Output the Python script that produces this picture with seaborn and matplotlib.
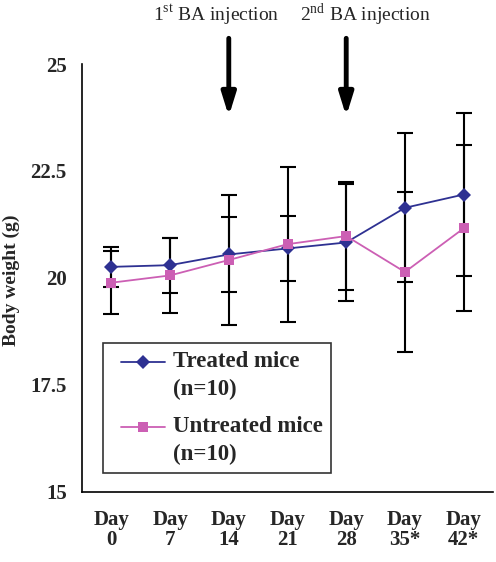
import matplotlib
matplotlib.use("Agg")
import matplotlib.pyplot as plt
import seaborn as sns
import pandas as pd
import numpy as np
from matplotlib.lines import Line2D
from matplotlib.legend_handler import HandlerLine2D

days = ["Day\n0", "Day\n7", "Day\n14", "Day\n21", "Day\n28", "Day\n35*", "Day\n42*"]
treated = [20.26, 20.30, 20.55, 20.69, 20.83, 21.64, 21.95]
treated_sd = [0.46, 0.64, 0.88, 0.77, 1.36, 1.74, 1.90]
untreated = [19.89, 20.06, 20.42, 20.79, 20.98, 20.14, 21.16]
untreated_sd = [0.74, 0.87, 1.51, 1.81, 1.27, 1.88, 1.94]
yticks = [15, 17.5, 20, 22.5, 25]
ytick_labels = ["15", "17.5", "20", "22.5", "25"]
injections = [(2, "1$^{\\rm st}$ BA injection"), (4, "2$^{\\rm nd}$ BA injection")]
legend_labels = ["Treated mice\n(n=10)", "Untreated mice\n(n=10)"]

sns.set_style("white")
plt.rcParams["font.family"] = ["Liberation Serif", "DejaVu Serif"]
plt.rcParams["mathtext.fontset"] = "custom"
plt.rcParams["mathtext.rm"] = "Liberation Serif"

c_tr = "#2E3192"
c_un = "#CC5FB4"

pos = np.arange(len(days))
df = pd.DataFrame({
    "pos": np.concatenate([pos, pos]),
    "weight": treated + untreated,
    "group": ["Treated"] * len(pos) + ["Untreated"] * len(pos),
})

fig = plt.figure(figsize=(4.96, 5.62), dpi=100)
ax = fig.add_axes([82 / 496, 70 / 562, 411 / 496, 428 / 562])

# error bars (black)
for vals, sds in [(treated, treated_sd), (untreated, untreated_sd)]:
    ax.errorbar(pos, vals, yerr=sds, fmt="none", ecolor="black",
                elinewidth=1.5, capsize=5.5, capthick=1.5, zorder=1)

sns.lineplot(data=df, x="pos", y="weight", hue="group", style="group",
             palette={"Treated": c_tr, "Untreated": c_un},
             markers={"Treated": "D", "Untreated": "s"}, dashes=False,
             markersize=7, markeredgewidth=0, linewidth=1.3, ax=ax,
             legend=False, zorder=3)

ax.set_xlim(-0.5, len(days) - 0.5)
ax.set_ylim(15, 25)
ax.set_yticks(yticks)
ax.set_yticklabels(ytick_labels, fontsize=15, fontweight="bold")
ax.set_xticks(np.arange(len(days) + 1) - 0.5)
ax.set_xticklabels([])
ax.set_xticks(pos, minor=True)
ax.set_xticklabels(days, minor=True, fontsize=15, fontweight="bold",
                   linespacing=0.98)
ax.tick_params(axis="x", which="major", direction="in", length=6, width=1.2)
ax.tick_params(axis="x", which="minor", length=0, pad=13)
ax.tick_params(axis="y", direction="in", length=6, width=1.2, pad=11)
ax.set_xlabel("")
ax.set_ylabel("Body weight (g)", fontsize=14, fontweight="bold")
ax.yaxis.set_label_coords(-0.152, 0.495)

for s in ["top", "right"]:
    ax.spines[s].set_visible(False)
for s in ["left", "bottom"]:
    ax.spines[s].set_color("black")
    ax.spines[s].set_linewidth(1.2)

# injection arrows
for x, label in injections:
    ax.annotate("", xy=(x, 23.78), xytext=(x, 25.6),
                arrowprops=dict(arrowstyle="-|>,head_length=1.35,head_width=0.42",
                                color="black", lw=3.5, shrinkA=0, shrinkB=0),
                annotation_clip=False)
ax.text(2 - 0.22, 26.15, injections[0][1], ha="center", va="center", fontsize=14,
        clip_on=False)
ax.text(4 + 0.33, 26.15, injections[1][1], ha="center", va="center", fontsize=14,
        clip_on=False)


class TopLineHandler(HandlerLine2D):
    """Draw the handle next to the first line of a two-line label."""
    def create_artists(self, legend, orig_handle, xdescent, ydescent, width,
                       height, fontsize, trans):
        off = 0.45 * fontsize
        up = 0.6 * fontsize
        return super().create_artists(legend, orig_handle, xdescent - off,
                                      ydescent - 2 * up, width - off, height,
                                      fontsize, trans)


h_tr = Line2D([], [], color=c_tr, marker="D", markersize=7, markeredgewidth=0, lw=1.3)
h_un = Line2D([], [], color=c_un, marker="s", markersize=7, markeredgewidth=0, lw=1.3)
leg = ax.legend([h_tr, h_un], legend_labels,
                handler_map={Line2D: TopLineHandler()},
                loc="upper left", bbox_to_anchor=(103 / 496, 1 - 343 / 562),
                bbox_transform=fig.transFigure,
                prop={"family": "Liberation Serif", "weight": "bold", "size": 16.5},
                frameon=True, fancybox=False, handlelength=2.35, handletextpad=0.35,
                labelspacing=0.7, borderpad=0.35, borderaxespad=0)
for t in leg.get_texts():
    t.set_linespacing(1.42)
leg.get_frame().set_edgecolor("black")
leg.get_frame().set_linewidth(1.2)

fig.savefig("out.png", dpi=100)
